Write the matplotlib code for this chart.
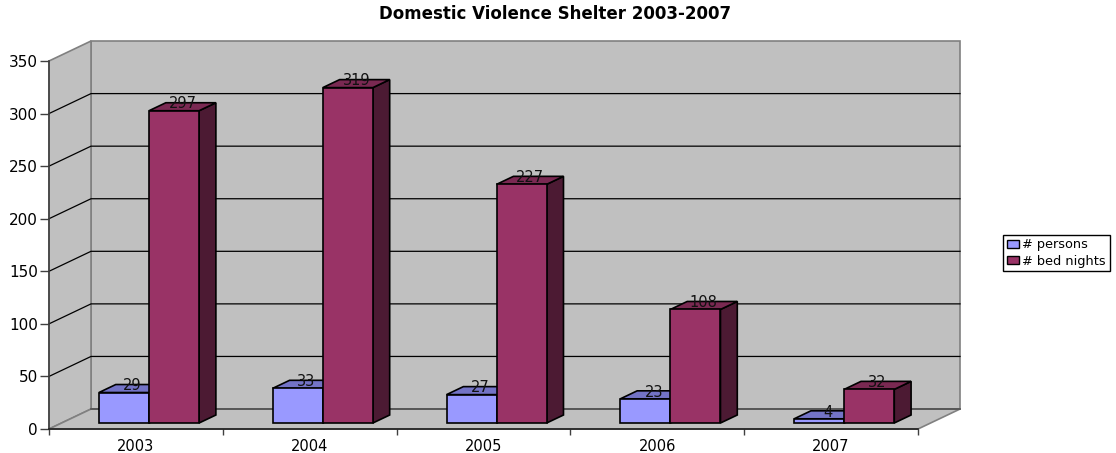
import matplotlib
matplotlib.use("AGG")
import matplotlib.pyplot as plt
from matplotlib.patches import Patch

years = ['2003', '2004', '2005', '2006', '2007']
persons = [29, 33, 27, 23, 4]
bed_nights = [297, 319, 227, 108, 32]
y_ticks = [0, 50, 100, 150, 200, 250, 300, 350]

WALL = '#C0C0C0'
EDGE = '#808080'
DEPTH_X = 0.2417  # 42px in category units
DEPTH_Y = 19.0    # 20px in value units
BAR_W = 0.288
BAR_START = 0.215

plt.rcParams['font.family'] = ['DejaVu Sans']
fig = plt.figure(figsize=(11.16, 4.53), dpi=100)
ax = fig.add_axes([49 / 1116, (453 - 429) / 453, 869 / 1116, 368 / 453])
ax.set_xlim(0, 5)
ax.set_ylim(0, 350)


def pt(x, y, d=0.0):
    # position in the fake 3D box, d = 0 front .. 1 back
    return (x + d * DEPTH_X, y + d * DEPTH_Y)


def poly(points, color, z, edge='black', lw=1.2):
    xs = [p[0] for p in points]
    ys = [p[1] for p in points]
    ax.fill(xs, ys, facecolor=color, edgecolor=edge, linewidth=lw, zorder=z,
            clip_on=False, joinstyle='miter')


def bar3d(x0, value, front, top, side):
    x1 = x0 + BAR_W
    d0, d1 = 0.3, 0.7
    poly([pt(x1, 0, d0), pt(x1, 0, d1), pt(x1, value, d1), pt(x1, value, d0)], side, 4)
    poly([pt(x0, value, d0), pt(x1, value, d0), pt(x1, value, d1), pt(x0, value, d1)], top, 4)
    poly([pt(x0, 0, d0), pt(x1, 0, d0), pt(x1, value, d0), pt(x0, value, d0)], front, 4)
    lx, ly = pt(x0 + BAR_W / 2, value, 0.5)
    ax.annotate(str(value), (lx, ly), xytext=(0, 2), textcoords='offset points',
                ha='center', va='center', fontsize=10.5, color='#111111', zorder=6,
                annotation_clip=False)


# walls and floor
poly([pt(0, 0, 1), pt(5, 0, 1), pt(5, 350, 1), pt(0, 350, 1)], WALL, 1, EDGE, 1.2)
poly([pt(0, 0, 0), pt(0, 0, 1), pt(0, 350, 1), pt(0, 350, 0)], WALL, 1, EDGE, 1.2)
poly([pt(0, 0, 0), pt(5, 0, 0), pt(5, 0, 1), pt(0, 0, 1)], WALL, 1, EDGE, 1.2)

# grid lines run along the side wall and the back wall
for v in y_ticks[1:-1]:
    a, b, c = pt(0, v, 0), pt(0, v, 1), pt(5, v, 1)
    ax.plot([a[0], b[0], c[0]], [a[1], b[1], c[1]], color='black', lw=0.9, zorder=2,
            clip_on=False)
a, b = pt(0, 0, 1), pt(5, 0, 1)
ax.plot([a[0], b[0]], [a[1], b[1]], color='#505050', lw=1.2, zorder=2, clip_on=False)

for i, year in enumerate(years):
    bar3d(i + BAR_START, persons[i], '#9999FF', '#7373C6', '#4C4C80')
    bar3d(i + BAR_START + BAR_W, bed_nights[i], '#993366', '#7A2952', '#4C1A33')

# axes
for s in ['top', 'right']:
    ax.spines[s].set_visible(False)
ax.spines['left'].set_color('#404040')
ax.spines['left'].set_linewidth(1.2)
ax.spines['bottom'].set_color('#202020')
ax.spines['bottom'].set_linewidth(1.2)
ax.spines['left'].set_zorder(5)
ax.spines['bottom'].set_zorder(5)
ax.patch.set_visible(False)

ax.set_yticks(y_ticks)
ax.tick_params(axis='y', length=6.5, width=1, color='#404040', labelsize=11, pad=1.5)
ax.set_xticks(range(6))
ax.set_xticklabels([])
ax.set_xticks([i + 0.5 for i in range(5)], minor=True)
ax.set_xticklabels(years, minor=True)
ax.tick_params(axis='x', which='major', length=4.5, width=1, color='#404040')
ax.tick_params(axis='x', which='minor', length=0, labelsize=10.5, pad=7.5)

fig.text(555 / 1116, 1 - 14 / 453, 'Domestic Violence Shelter 2003-2007',
         ha='center', va='center', fontsize=12, fontweight='bold', color='black')

handles = [Patch(facecolor='#9999FF', edgecolor='black', label='# persons'),
           Patch(facecolor='#993366', edgecolor='black', label='# bed nights')]
leg = fig.legend(handles=handles, loc='center left', bbox_to_anchor=(1003 / 1116, 1 - 253 / 453),
                 fontsize=9.3, frameon=True, fancybox=False, framealpha=1, edgecolor='black',
                 borderpad=0.3, labelspacing=0.25, handlelength=0.9, handleheight=0.6,
                 handletextpad=0.3, borderaxespad=0)
leg.get_frame().set_linewidth(1.0)

fig.savefig('out.png', dpi=100)
plt.close()
